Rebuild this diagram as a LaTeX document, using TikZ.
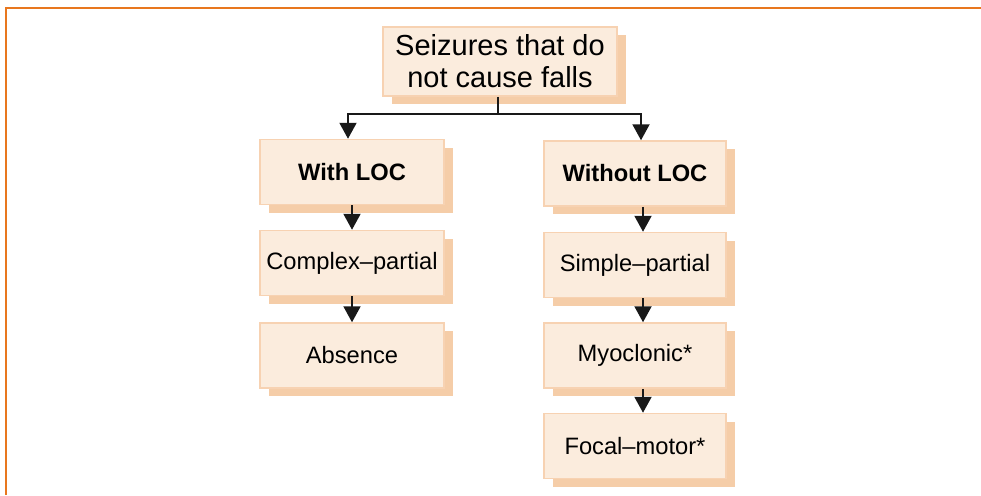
\documentclass[tikz,border=0pt]{standalone}
\usepackage{fontspec}
\setmainfont{Liberation Sans}
\usepackage{xcolor}
\usetikzlibrary{arrows.meta,positioning,shadows}
\definecolor{boxfill}{HTML}{FBECDD}
\definecolor{boxline}{HTML}{F7D2B2}
\definecolor{boxshade}{HTML}{F5CDA8}
\definecolor{framec}{HTML}{E8771E}

\begin{document}
\begin{tikzpicture}[x=1pt,y=-1pt,
  box/.style={draw=boxline,fill=boxfill,line width=1.5pt,align=center,inner sep=2pt,
    minimum width=184pt,minimum height=65pt,font=\fontsize{23.7}{28}\selectfont,
    general shadow={fill=boxshade,shadow xshift=9pt,shadow yshift=-8pt}},
  >={Triangle[width=17pt,length=16pt]},
  link/.style={->,line width=2pt,black!90}]
\useasboundingbox (0,0) rectangle (981,495);
\draw[framec,line width=1.8pt] (6,495) -- (6,8) -- (981,8);
\node[box,minimum width=234pt,minimum height=69pt,font=\fontsize{29}{32}\selectfont] (top) at (500,61.5) {Seizures that do\\not cause falls};
\node[box,font=\fontsize{23.7}{28}\selectfont\bfseries] (withloc) at (352,172) {With LOC};
\node[box] (cplx) at (352,263) {Complex--partial};
\node[box] (absn) at (352,355.5) {Absence};
\node[box,minimum width=182pt,font=\fontsize{23.7}{28}\selectfont\bfseries] (woloc) at (635,173.5) {Without LOC};
\node[box,minimum width=182pt] (smpl) at (635,265) {Simple--partial};
\node[box,minimum width=182pt] (myoc) at (635,355.5) {Myoclonic*};
\node[box,minimum width=182pt] (focl) at (635,446) {Focal--motor*};
\coordinate (split) at (498,114);
\draw[link,-] (top.south -| split) -- (split);
\draw[link] (split) -| ([xshift=-4pt]withloc.north);
\draw[link] (split) -| ([xshift=6pt]woloc.north);
\draw[link] (withloc) -- (cplx);
\draw[link] (cplx) -- (absn);
\draw[link] ([xshift=8pt]woloc.south) -- ([xshift=8pt]smpl.north);
\draw[link] ([xshift=8pt]smpl.south) -- ([xshift=8pt]myoc.north);
\draw[link] ([xshift=8pt]myoc.south) -- ([xshift=8pt]focl.north);
\end{tikzpicture}
\end{document}
